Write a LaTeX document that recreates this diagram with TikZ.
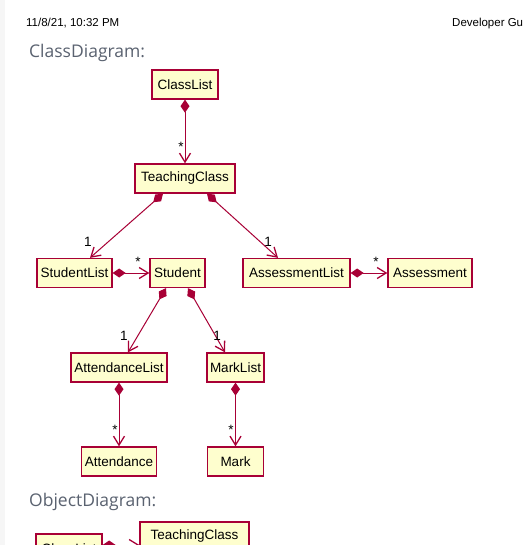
\documentclass[tikz,border=0pt]{standalone}
\usepackage{fontspec}
\setmainfont{Liberation Sans}
\newfontfamily\headfont{Open Sans}
\usepackage{xcolor}
\usetikzlibrary{calc, arrows.meta, positioning}
\definecolor{umlred}{HTML}{A80036}
\definecolor{umlfill}{HTML}{FEFECE}
\definecolor{headgray}{HTML}{5A6270}
\tikzset{
    classnode/.style = {draw=umlred, fill=umlfill, rectangle, line width=1.3pt, inner xsep=3pt,
      inner ysep=0pt, minimum height=29pt, node distance=0em, font=\fontsize{13.5}{15}\selectfont},
    textnode/.style  = {draw=none, fill=none, rectangle, inner sep=0pt, anchor=base west},
    multnode/.style  = {draw=none, fill=none, inner sep=0pt, font=\fontsize{13.5}{15}\selectfont},
    connect/.style = {umlred, line width=1pt,
      {Diamond[length=13pt,width=9pt]}-{Straight Barb[length=9pt,width=11pt,line width=1.3pt]}},
}

\begin{document}
\begin{tikzpicture}[x=1pt, y=1pt]
    \useasboundingbox (0,0) rectangle (526,-545);
    \fill[white] (0,0) rectangle (526,-545);
    \fill[gray!7] (0,0) rectangle (5,-545);

    % page header and headings
    \node [name=date, textnode, font=\fontsize{11.5}{13}\selectfont] at (26,-26.5) {11/8/21, 10:32 PM};
    \node [name=guide, textnode, font=\fontsize{11.5}{13}\selectfont] at (452,-26.5) {Developer Gu};
    \node [name=classhead, textnode, text=headgray, font=\headfont\fontsize{17.5}{20}\selectfont]
        at (29,-57.5) {ClassDiagram:};
    \node [name=objhead, textnode, text=headgray, font=\headfont\fontsize{17.5}{20}\selectfont]
        at (29,-506.5) {ObjectDiagram:};

    % class diagram
    \node [name=classlist, classnode, minimum width=66pt] at (185,-84.5) {ClassList};
    \node [name=teaching, classnode, minimum width=100pt,
        below of = classlist, yshift=-94pt] {TeachingClass};

    \node [name=studentlist, classnode, minimum width=75pt,
        below of = teaching, xshift=-110.5pt, yshift=-94.5pt] {StudentList};
    \node [name=student, classnode, minimum width=55pt,
        right of = studentlist, xshift=103pt] {Student};
    \node [name=assesslist, classnode, minimum width=107pt,
        right of = student, xshift=119pt] {AssessmentList};
    \node [name=assess, classnode, minimum width=84pt,
        right of = assesslist, xshift=133.5pt] {Assessment};

    \node [name=attlist, classnode, minimum width=96pt,
        below of = student, xshift=-58.5pt, yshift=-94.5pt] {AttendanceList};
    \node [name=marklist, classnode, minimum width=57pt,
        right of = attlist, xshift=116.5pt] {MarkList};

    \node [name=att, classnode, minimum width=74pt,
        below of = attlist, yshift=-94pt] {Attendance};
    \node [name=mark, classnode, minimum width=56pt,
        below of = marklist, yshift=-94pt] {Mark};

    \draw [connect] (classlist) -- (teaching);
    \draw [connect] ([xshift=-22pt]teaching.south) -- ([xshift=15.5pt]studentlist.north);
    \draw [connect] ([xshift=22pt]teaching.south) -- ([xshift=-18.5pt]assesslist.north);
    \draw [connect] (studentlist) -- (student);
    \draw [connect] (assesslist) -- (assess);
    \draw [connect] ([xshift=-11.5pt]student.south) -- ([xshift=9pt]attlist.north);
    \draw [connect] ([xshift=10.5pt]student.south) -- ([xshift=-10.5pt]marklist.north);
    \draw [connect] (attlist) -- (att);
    \draw [connect] (marklist) -- (mark);

    \node [name=star1, multnode] at (181,-147) {*};
    \node [name=one1, multnode] at (88,-241.7) {1};
    \node [name=one2, multnode] at (268,-242) {1};
    \node [name=star2, multnode] at (138,-262) {*};
    \node [name=star3, multnode] at (376,-262) {*};
    \node [name=one3, multnode] at (124,-336) {1};
    \node [name=one4, multnode] at (217,-336) {1};
    \node [name=star4, multnode] at (115,-430) {*};
    \node [name=star5, multnode] at (231,-430) {*};

    % object diagram (cut off at the bottom)
    \node [name=objteach, classnode, minimum width=109pt] at (194.5,-536.5) {TeachingClass};
    \node [name=objclass, classnode, minimum width=66pt,
        left of = objteach, xshift=-125.5pt, yshift=-12pt] {ClassList};
    \draw [connect] ([yshift=3.5pt]objclass.east) -- ([yshift=3.5pt]objclass.east -| objteach.west);
\end{tikzpicture}
\end{document}
